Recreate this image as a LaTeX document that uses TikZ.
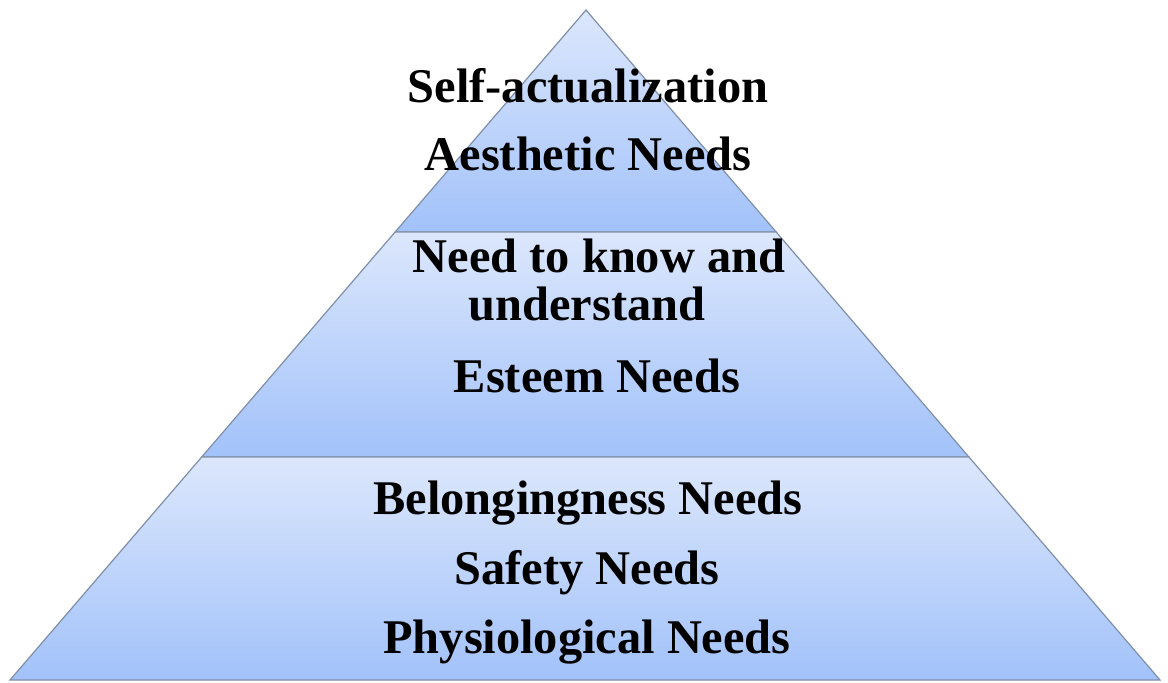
\documentclass[tikz,border=0pt]{standalone}
\usepackage{fontspec}
\setmainfont{Liberation Serif}
\usetikzlibrary{calc, positioning}

\definecolor{tierlight}{HTML}{DCE7FC}
\definecolor{tierdark}{HTML}{A2C2FA}
\definecolor{tierline}{HTML}{7F8FA8}

\tikzset{
    tier/.style={draw=tierline, line width=0.6pt, top color=tierlight, bottom color=tierdark},
    need/.style={anchor=base, inner sep=0pt, font=\fontsize{24.2}{29}\selectfont\bfseries}
}

\begin{document}
\begin{tikzpicture}[x=0.5pt, y=-0.5pt]
    \useasboundingbox (0,0) rectangle (1168,682);

    % corners of the pyramid
    \coordinate (apex) at (586,10);
    \coordinate (bl) at (10,680);
    \coordinate (br) at (1160,680);
    \coordinate (l1) at ($(apex)!0.3313!(bl)$);
    \coordinate (r1) at ($(apex)!0.3313!(br)$);
    \coordinate (l2) at ($(apex)!0.667!(bl)$);
    \coordinate (r2) at ($(apex)!0.667!(br)$);

    % tiers
    \path[tier] (apex) -- (r1) -- (l1) -- cycle;
    \path[tier] (l1) -- (r1) -- (r2) -- (l2) -- cycle;
    \path[tier] (l2) -- (r2) -- (br) -- (bl) -- cycle;

    % top tier
    \node[need] (selfact) at (588,102) {Self-actualization};
    \node[need] (aesthetic) at (588,170) {Aesthetic Needs};

    % middle tier
    \node[need] (know) at (599,272) {Need to know and};
    \node[need] (understand) at (587,320) {understand};
    \node[need] (esteem) at (597,392) {Esteem Needs};

    % bottom tier
    \node[need] (belong) at (588,514) {Belongingness Needs};
    \node[need] (safety) at (587,584) {Safety Needs};
    \node[need] (physio) at (587,653) {Physiological Needs};
\end{tikzpicture}
\end{document}
